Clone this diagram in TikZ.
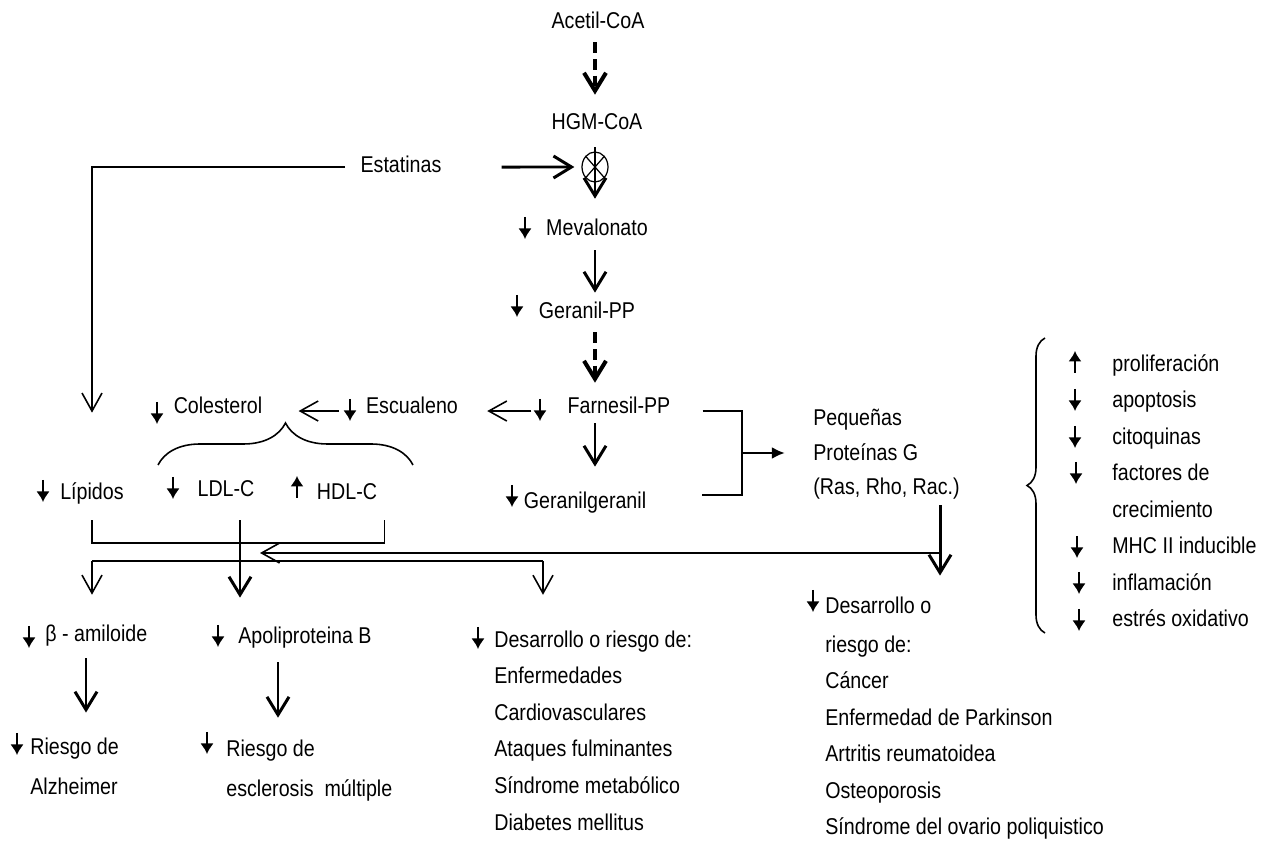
\documentclass[tikz,border=0pt]{standalone}
\usepackage{fontspec}
\setmainfont{Liberation Sans}[FakeStretch=0.86]
\usetikzlibrary{arrows.meta,shapes.geometric,decorations.pathreplacing}

% small up/down markers next to the labels
\newcommand{\menos}[2]{\draw[ind] (#1,#2-11) -- (#1,#2+11);}
\newcommand{\mas}[2]{\draw[ind] (#1,#2+11) -- (#1,#2-11);}

\begin{document}
\begin{tikzpicture}[x=0.2mm, y=-0.2mm,
  lbl/.style={font=\fontsize{13}{20.8}\selectfont, inner sep=2pt, text height=9.6pt, text depth=2.8pt, anchor=base},
  blk/.style={font=\fontsize{13}{20.8}\selectfont, inner sep=2pt, align=left, anchor=base west},
  fat/.style={line width=1.7pt, -{Straight Barb[length=3.6mm,width=4.4mm]}},
  dashflow/.style={fat, line width=2.3pt, dash pattern=on 6pt off 3.5pt},
  fine/.style={line width=0.9pt},
  finearr/.style={fine, -{Straight Barb[length=3.6mm,width=4mm]}},
  ind/.style={line width=1.3pt, -{Latex[length=2.1mm,width=2.7mm]}},
  curly/.style={fine, decorate, decoration={brace, amplitude=#1}}]
  \useasboundingbox (0,0) rectangle (1264,843);
  \coordinate (axis) at (595,0);

  % pathway
  \node[lbl] (acetil) at (598,29) {Acetil-CoA};
  \node[lbl] (hgm) at (597,130) {HGM-CoA};
  \node[lbl] (estat) at (401,173) {Estatinas};
  \node[draw, ellipse, line width=0.7pt, inner sep=0pt, minimum width=5.2mm, minimum height=6mm] (stop) at (595,167) {};
  \draw[line width=0.7pt] (stop.north west) -- (stop.south east) (stop.north east) -- (stop.south west);
  \node[lbl] (mev) at (597,236) {Mevalonato};
  \node[lbl] (ger) at (587,319) {Geranil-PP};
  \node[lbl] (farn) at (619,414) {Farnesil-PP};
  \node[lbl] (escu) at (412,414) {Escualeno};
  \node[lbl] (col) at (218,414) {Colesterol};
  \node[lbl] (gg) at (585,509) {Geranilgeranil};
  \node[blk] (peq) at (809.5,495) {Pequeñas\\[-1pt]Proteínas G\\[-1pt](Ras, Rho, Rac.)};

  \draw[dashflow, shorten <=2.6pt, shorten >=8.3pt] (acetil.south -| axis) -- (hgm.north -| axis);
  \draw[fat, shorten <=4.9pt, shorten >=9.4pt] (hgm.south -| axis) -- (mev.north -| axis);
  \draw[fat, shorten <=32.1pt, shorten >=4pt] (estat.east) -- (stop.west);
  \draw[fat, shorten <=3.2pt, shorten >=3.2pt] (mev.south -| axis) -- (ger.north -| axis);
  \draw[dashflow, shorten <=2.6pt, shorten >=6pt] (ger.south -| axis) -- (farn.north -| axis);
  \draw[fat, shorten <=0.3pt, shorten >=12.3pt] (farn.south -| axis) -- (gg.north -| axis);
  \draw[finearr, shorten <=18.5pt, shorten >=14.5pt] ([yshift=-0.6mm]farn.west) -- ([yshift=-0.6mm]escu.east);
  \draw[finearr, shorten <=13.4pt, shorten >=18.5pt] ([yshift=-0.6mm]escu.west) -- ([yshift=-0.6mm]col.east);

  % prenylation bracket
  \coordinate (brk) at (742,453);
  \draw[fine] ([xshift=5.7mm,yshift=-0.6mm]farn.east) -| (brk) |- ([xshift=10.3mm,yshift=1.6mm]gg.east);
  \draw[line width=1.7pt, -{Latex[length=2.6mm,width=2.4mm]}, shorten >=14pt] (brk) -- (peq.west |- brk);

  % lipids
  \node[lbl] (lip) at (92,500) {Lípidos};
  \node[lbl] (ldl) at (226,497) {LDL-C};
  \node[lbl] (hdl) at (347,500) {HDL-C};
  \draw[curly=8.4mm] (158,465) -- (413,465);
  \draw[finearr, shorten >=37.9pt] ([xshift=-2.3mm]estat.west) -| (lip.north);
  \draw[fine] ([yshift=-2.3mm]lip.south) |- ([xshift=0.7mm,yshift=-6.9mm]hdl.south east) -- ([xshift=0.7mm,yshift=-2.3mm]hdl.south east);

  % outcomes
  \node[lbl, anchor=base west] (amil) at (41.5,642) {β - amiloide};
  \node[blk] (alz) at (26.5,795) {Riesgo de\\[2.5pt]Alzheimer};
  \node[lbl, anchor=base west] (apo) at (234.5,644) {Apoliproteina B};
  \node[blk] (escl) at (222.5,797) {Riesgo de\\[2.5pt]esclerosis~ múltiple};
  \node[blk] (cardio) at (490.5,830) {Desarrollo o riesgo de:\\Enfermedades\\Cardiovasculares\\Ataques fulminantes\\Síndrome metabólico\\Diabetes mellitus};
  \node[blk] (cancer) at (821.5,835) {Desarrollo o\\[1.5pt]riesgo de:\\Cáncer\\Enfermedad de Parkinson\\Artritis reumatoidea\\Osteoporosis\\Síndrome del ovario poliquistico};

  \coordinate (bus) at (940,553);
  \coordinate (ret) at (260,553);
  \coordinate (lowL) at (92,561);
  \coordinate (lowR) at (543,561);
  \draw[fat, shorten <=1pt, shorten >=9.7pt] (peq.south -| bus) -- (cancer.north -| bus);
  \draw[finearr] (bus) -- (ret);
  \draw[fine] (lowL) -- (lowR);
  \draw[finearr, shorten >=15.1pt] (lowL) -- (amil.north -| lowL);
  \draw[finearr, shorten >=18.2pt] (lowR) -- (cardio.north -| lowR);
  \draw[fat, shorten <=8.3pt, shorten >=14.6pt] ([xshift=2.8mm]ldl.south) -- ([xshift=2.8mm]ldl.south |- apo.north);
  \draw[fat, shorten <=4.3pt, shorten >=12pt] ([xshift=8.9mm]amil.south west) -- ([xshift=8.9mm]amil.south west |- alz.north);
  \draw[fat, shorten <=5.5pt, shorten >=10.2pt] ([xshift=8.7mm]apo.south west) -- ([xshift=8.7mm]apo.south west |- escl.north);

  % pleiotropic effects
  \node[blk] (efectos) at (1108.5,627) {proliferación\\apoptosis\\citoquinas\\factores de\\crecimiento\\MHC II inducible\\inflamación\\estrés oxidativo};
  \draw[curly=3.6mm] (1045,633) -- (1045,338);

  % markers
  \menos{525}{228} \menos{517}{306} \menos{540}{410} \menos{350}{410}
  \menos{157}{413} \menos{512}{496} \menos{43}{491} \menos{173}{488}
  \mas{297}{487}
  \menos{29}{637} \menos{218}{636} \menos{17}{744} \menos{207}{743}
  \menos{478}{638} \menos{813}{601}
  \mas{1075}{362}
  \foreach \x/\y in {1075/400,1075/437,1076/473,1077/547,1079/583,1079/620}
    {\menos{\x}{\y}}
\end{tikzpicture}
\end{document}
